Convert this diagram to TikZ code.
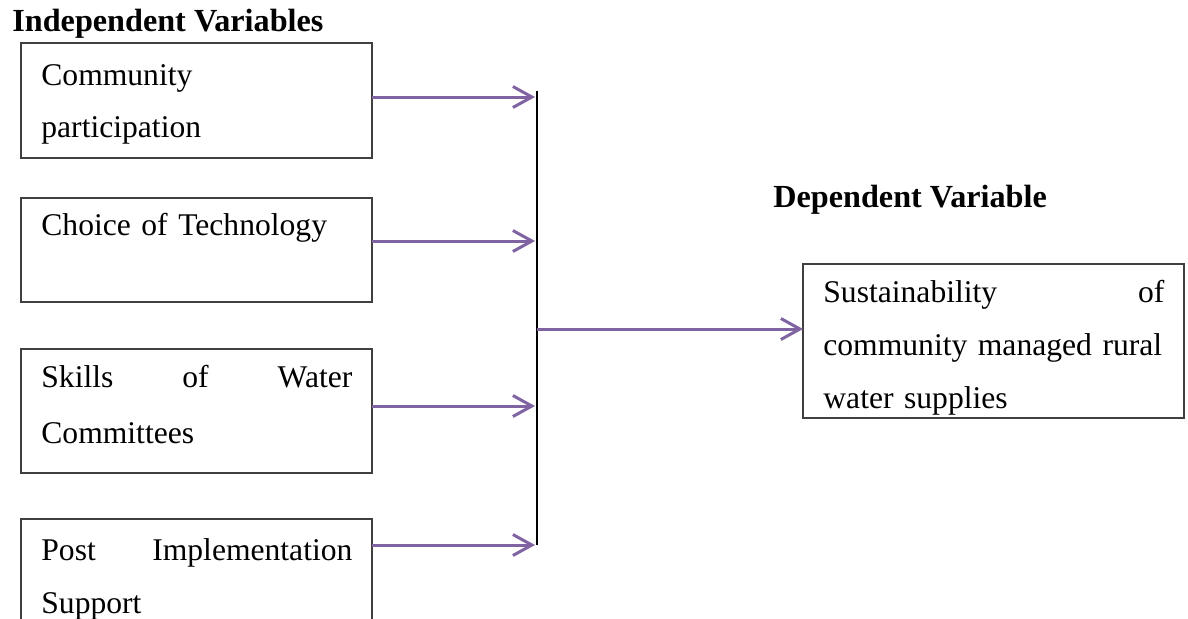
\documentclass[tikz,border=0pt]{standalone}
\usepackage{fontspec}
\setmainfont{Liberation Serif}
\usetikzlibrary{arrows.meta}
\definecolor{arrowpurple}{RGB}{128,100,162}
\definecolor{boxgray}{RGB}{64,64,64}
\begin{document}
\begin{tikzpicture}[x=0.5pt,y=-0.5pt,
  varbox/.style={draw=boxgray,line width=0.75pt,anchor=north west,inner sep=0pt,outer sep=0pt,minimum width=175.5pt},
  vartext/.style={anchor=base west,inner sep=0pt,text width=155.5pt,align=left,font=\fontsize{15.8}{26.5}\selectfont},
  flow/.style={draw=arrowpurple,line width=1.5pt,-{Straight Barb[length=9.5pt,width=10.5pt,line width=1.5pt]}},
  spine/.style={draw=black,line width=1pt},
  heading/.style={anchor=base west,inner sep=0pt,font=\fontsize{16.1}{19}\selectfont\bfseries}]
\useasboundingbox (0,0) rectangle (1188,618);
\clip (0,0) rectangle (1188,618);

% headings
\node[heading] (hind) at (12,31) {Independent Variables};
\node[heading] (hdep) at (773,207) {Dependent Variable};

% independent variable boxes
\node[varbox,minimum height=57.5pt] (b1) at (21,43) {};
\node[varbox,minimum height=52pt] (b2) at (21,198) {};
\node[varbox,minimum height=62pt] (b3) at (21,349) {};
\node[varbox,minimum height=62pt] (b4) at (21,519) {};

\node[vartext,font=\fontsize{15.8}{26}\selectfont] (t1) at (41,85) {Community\\participation};
\node[vartext] (t2) at (41,235) {Choice of Technology};
\node[vartext,font=\fontsize{15.8}{28}\selectfont] (t3) at (41,387) {Skills\hfill of\hfill Water\\Committees};
\node[vartext] (t4) at (41,560) {Post\hfill Implementation\\Support};

% dependent variable box
\node[varbox,minimum width=190.5pt,minimum height=77pt] (dv) at (803,264) {};
\node[vartext,text width=170.5pt] (tdv) at (823,302) {Sustainability\hfill of\\community managed rural\\water supplies};

% spine and junctions
\coordinate (vtop) at (537,91);
\coordinate (vbot) at (537,545);
\coordinate (hub) at (537,329);
\coordinate (j1) at (535,97);
\coordinate (j2) at (535,241);
\coordinate (j3) at (535,406);
\coordinate (j4) at (535,545);

\draw[spine] (vtop) -- (vbot);
\draw[flow] (b1.east |- j1) -- (j1);
\draw[flow] (b2.east |- j2) -- (j2);
\draw[flow] (b3.east |- j3) -- (j3);
\draw[flow] (b4.east |- j4) -- (j4);
\draw[flow] (hub) -- (dv.west |- hub);
\end{tikzpicture}
\end{document}
